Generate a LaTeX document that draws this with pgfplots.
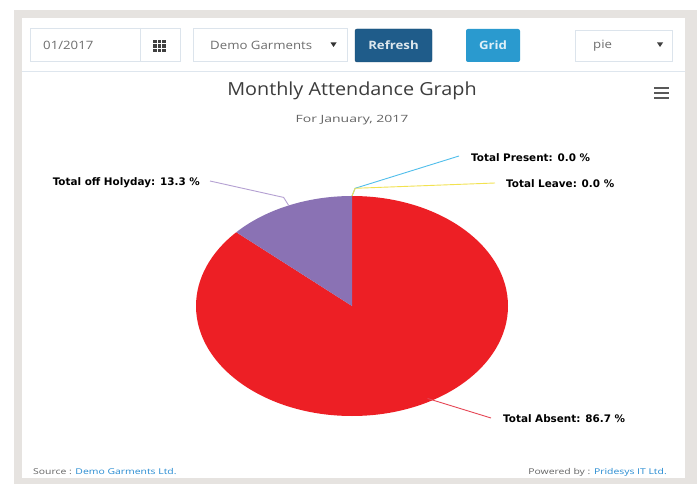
\documentclass[border=0pt]{standalone}
\usepackage{pgfplots}
\pgfplotsset{compat=1.18}
\usepackage{pgfplotstable}
\usepackage{fontspec}
\setmainfont{Open Sans}
\newfontfamily\lblfont{DejaVu Sans}
\newfontfamily\titlefont[FakeStretch=1.1]{Open Sans}
\newfontfamily\subfont[FakeStretch=1.4]{Open Sans}
\newfontfamily\footfont[FakeStretch=1.3]{Open Sans}
\newfontfamily\tbfont[FakeStretch=1.15]{Open Sans}
\definecolor{framegray}{RGB}{230,227,224}
\definecolor{sepline}{RGB}{222,230,238}
\definecolor{boxborder}{RGB}{220,228,236}
\definecolor{refreshblue}{RGB}{31,92,138}
\definecolor{refreshborder}{RGB}{22,70,108}
\definecolor{gridblue}{RGB}{42,154,207}
\definecolor{tbtext}{RGB}{110,110,110}
\definecolor{piered}{RGB}{237,31,37}
\definecolor{piepurple}{RGB}{138,114,180}
\definecolor{conblue}{RGB}{80,190,235}
\definecolor{conyellow}{RGB}{242,226,80}
\definecolor{conpurple}{RGB}{180,160,210}
\definecolor{conred}{RGB}{230,70,85}
\definecolor{titlegray}{RGB}{60,60,60}
\definecolor{subgray}{RGB}{100,100,100}
\definecolor{linkblue}{RGB}{40,140,210}

\pgfplotstableread{
name value
Present 0.0
Leave 0.0
Absent 86.7
Holiday 13.3
}\piedata

\begin{document}
\begin{tikzpicture}
\begin{scope}[x=1pt,y=-1pt]
  \useasboundingbox (0,0) rectangle (697,484);
  \fill[white] (0,0) rectangle (697,484);
  \fill[framegray] (14,10) rectangle (697,484);
  \fill[white] (22,18) rectangle (685,478);
  % toolbar
  \draw[boxborder, line width=0.8pt] (30,28) rectangle (180,61);
  \draw[boxborder, line width=0.8pt] (140,28) -- (140,61);
  \node[anchor=west, inner sep=0pt, font=\tbfont\fontsize{11.5}{13}\selectfont, text=tbtext] at (43,45) {01/2017};
  \foreach \i in {0,1,2}{\foreach \j in {0,1,2}{
    \fill[black!75] (153+\i*4.5,40+\j*4.5) rectangle ++(3.5,3.5);}}
  \draw[boxborder, line width=0.8pt] (193,28) rectangle (347,61);
  \node[anchor=west, inner sep=0pt, font=\tbfont\fontsize{11.5}{13}\selectfont, text=tbtext] at (210,45) {Demo Garments};
  \fill[black!80] (330.5,42.5) -- (336.5,42.5) -- (333.5,47) -- cycle;
  \fill[refreshblue, draw=refreshborder, rounded corners=2pt] (355,29) rectangle (432,62);
  \node[font=\tbfont\fontsize{11.5}{13}\selectfont\bfseries, text=white!85!refreshblue] at (393.5,45.5) {Refresh};
  \fill[gridblue, rounded corners=2pt] (466,29) rectangle (520,62);
  \node[font=\tbfont\fontsize{11.5}{13}\selectfont\bfseries, text=white!85!gridblue] at (493,45.5) {Grid};
  \draw[boxborder, line width=0.8pt] (575,30) rectangle (672,61);
  \node[anchor=west, inner sep=0pt, font=\tbfont\fontsize{11.5}{13}\selectfont, text=tbtext] at (593,46) {pie};
  \fill[black!75] (657,42.5) -- (663,42.5) -- (660,47) -- cycle;
  \draw[sepline, line width=1pt] (22,72) -- (685,72);
  % titles
  \node[font=\titlefont\fontsize{18}{20}\selectfont, text=titlegray] at (352,91) {Monthly Attendance Graph};
  \node[font=\subfont\fontsize{10}{12}\selectfont, text=subgray] at (352,120) {For January, 2017};
  % hamburger
  \foreach \yy in {88,93,98}{\draw[black!65, line width=2.2pt] (654,\yy) -- (669,\yy);}
  % footer
  \node[anchor=west, font=\footfont\fontsize{8}{9}\selectfont, text=subgray, inner sep=0pt] at (33,472) {Source : \textcolor{linkblue}{Demo Garments Ltd.}};
  \node[anchor=east, font=\footfont\fontsize{8}{9}\selectfont, text=subgray, inner sep=0pt] at (667,472) {Powered by : \textcolor{linkblue}{Pridesys IT Ltd.}};
\end{scope}

\begin{axis}[at={(352pt,-306pt)}, anchor=center, x=156pt, y=110pt,
  xmin=-1, xmax=1, ymin=-1, ymax=1, hide axis, clip=false]
  \pgfplotstablegetelem{2}{value}\of\piedata \pgfmathsetmacro\vAbs{\pgfplotsretval}
  \pgfplotstablegetelem{3}{value}\of\piedata \pgfmathsetmacro\vHol{\pgfplotsretval}
  \pgfmathsetmacro\aAbsEnd{90-3.6*\vAbs}
  \pgfmathsetmacro\aHolEnd{\aAbsEnd-3.6*\vHol}
  \pgfmathsetmacro\mAbs{(90+\aAbsEnd)/2}
  \pgfmathsetmacro\mHol{(\aAbsEnd+\aHolEnd)/2}
  \fill[piered] (axis cs:0,0) -- (axis cs:0,1) arc[start angle=90, end angle=\aAbsEnd, x radius=1, y radius=1] -- cycle;
  \fill[piepurple] (axis cs:0,0) -- (axis cs:{cos(\aAbsEnd)},{sin(\aAbsEnd)}) arc[start angle=\aAbsEnd, end angle=\aHolEnd, x radius=1, y radius=1] -- cycle;
  \coordinate (hEdge) at (axis cs:{cos(\mHol)},{sin(\mHol)});
  \coordinate (hOut) at (axis cs:{1.08*cos(\mHol)},{1.08*sin(\mHol)});
  \coordinate (tEdge) at (axis cs:0,1);
  \coordinate (tOut) at (axis cs:0.02,1.07);
  \coordinate (aEdge) at (axis cs:{0.97*cos(\mAbs+6)},{0.97*sin(\mAbs+6)});
\end{axis}

\begin{scope}[x=1pt,y=-1pt]
  \draw[conpurple, line width=0.9pt] (hEdge) -- (hOut) -- (210,181);
  \draw[conblue, line width=0.9pt] (tEdge) -- (tOut) -- (459,156);
  \draw[conyellow, line width=0.9pt] (tEdge) -- (tOut) -- (495,183);
  \draw[conred, line width=0.9pt] (aEdge) -- (491,418);
  \begin{scope}[every node/.style={font=\lblfont\bfseries\fontsize{10.4}{12}\selectfont, inner sep=0pt}]
    \node[anchor=east] at (200,183) {Total off Holyday: 13.3 \%};
    \node[anchor=west] at (471,157.5) {Total Present: 0.0 \%};
    \node[anchor=west] at (506,184) {Total Leave: 0.0 \%};
    \node[anchor=west] at (503,419) {Total Absent: 86.7 \%};
  \end{scope}
\end{scope}
\end{tikzpicture}
\end{document}
